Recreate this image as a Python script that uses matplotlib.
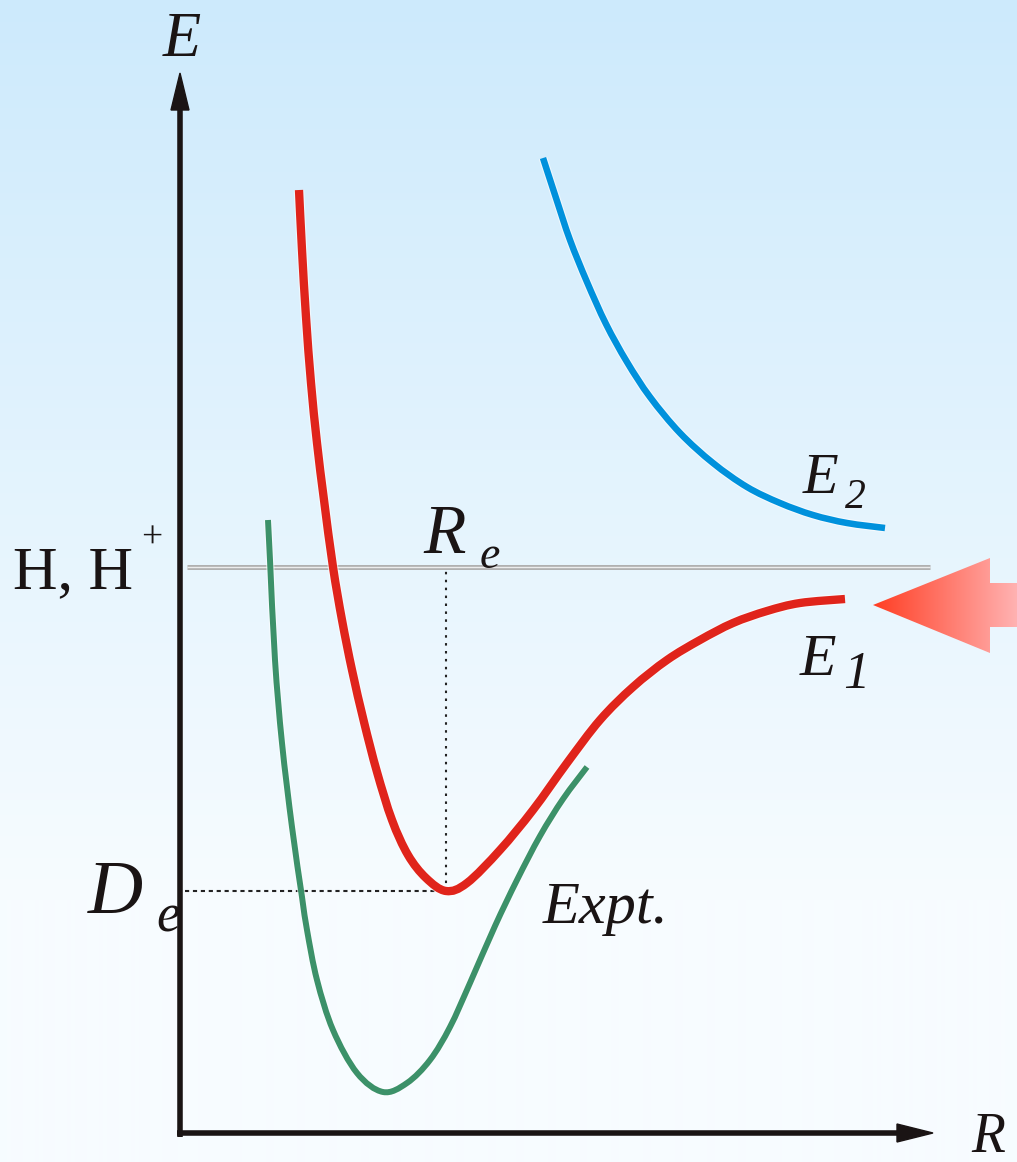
import numpy as np
import matplotlib
matplotlib.use("Agg")
import matplotlib.pyplot as plt
from matplotlib import patheffects as pe
from matplotlib.patches import Polygon, PathPatch
from matplotlib.path import Path

# ---------------- data (R, E in arbitrary units) ----------------
red_R = [119, 122, 126, 131, 137, 144, 153, 162, 172, 184, 197, 212, 228, 246, 266, 287,
         320, 353, 387, 420, 453, 487, 520, 553, 587, 620, 665]
red_E = [943, 883, 816, 750, 690, 633, 566, 513, 463, 411, 361, 313, 278, 255, 242, 250,
         283, 323, 370, 413, 446, 473, 493, 510, 522, 530, 534]

blue_R = [363, 376, 390, 407, 426, 447, 470, 500, 533, 567, 600, 633, 667, 705]
blue_E = [975, 935, 893, 851, 809, 771, 736, 700, 670, 646, 630, 618, 610, 605]

green_R = [88, 90, 95, 102, 112, 122, 127, 137, 153, 177, 203, 227, 250, 270, 290,
           315, 337, 360, 383, 407]
green_E = [613, 573, 473, 390, 306, 236, 203, 153, 103, 60, 41, 50, 73, 106, 150,
           207, 253, 297, 334, 366]

asym_E = 566          # H, H+ dissociation level
asym_R = [7, 750]
Re = 266              # equilibrium distance
De_E = 242            # minimum of E1

# ---------------- figure ----------------
W, H = 1017, 1162
fig = plt.figure(figsize=(W / 100, H / 100), dpi=100)
ax = fig.add_axes([0, 0, 1, 1])
x0, x1, y0, y1 = -180, 837, -29, 1133
ax.set_xlim(x0, x1)
ax.set_ylim(y0, y1)
ax.axis("off")

# background gradient
top = np.array([205, 234, 252]) / 255
bot = np.array([247, 252, 255]) / 255
rows = np.arange(H)
t = np.clip(rows / 900.0, 0, 1)[:, None]
grad = (top * (1 - t) + bot * t)[:, None, :]
ax.imshow(grad, extent=(x0, x1, y0, y1), aspect="auto", zorder=0, interpolation="bilinear")

ink = "#1a1414"
serif = "Liberation Serif"

# axes with arrows
ax.plot([0, 0], [-4, 1025], color=ink, lw=4.0, solid_capstyle="butt", zorder=5)
ax.add_patch(Polygon([(-9, 1023), (9, 1023), (0, 1060)], closed=True, color=ink, zorder=5))
ax.plot([-3, 719], [0, 0], color=ink, lw=4.0, solid_capstyle="butt", zorder=5)
ax.add_patch(Polygon([(717, 9), (717, -9), (753, 0)], closed=True, color=ink, zorder=5))

# dissociation level (double gray line)
ax.plot(asym_R, [asym_E, asym_E], color="#b0b0b0", lw=3.6, zorder=2, solid_capstyle="butt")
ax.plot(asym_R, [asym_E, asym_E], color="#ececec", lw=1.0, zorder=2, solid_capstyle="butt")

# dotted guide lines
ax.plot([Re, Re], [De_E, asym_E], color="#222222", lw=1.5, ls=(0, (1.2, 2.6)), zorder=3)
ax.plot([5, Re], [De_E, De_E], color="#222222", lw=1.5, ls=(0, (2.0, 1.8)), zorder=3)


def smooth_path(xs, ys):
    """Bezier path through the read points (Catmull-Rom tangents)."""
    p = np.column_stack([xs, ys]).astype(float)
    ext = np.vstack([p[0], p, p[-1]])
    verts = [p[0]]
    codes = [Path.MOVETO]
    for i in range(len(p) - 1):
        a, b, c, d = ext[i], ext[i + 1], ext[i + 2], ext[i + 3]
        verts += [b + (c - a) / 6.0, c - (d - b) / 6.0, c]
        codes += [Path.CURVE4] * 3
    return Path(verts, codes)


def curve(xs, ys, color, lw):
    patch = PathPatch(smooth_path(xs, ys), facecolor="none", edgecolor=color, lw=lw,
                      capstyle="butt", joinstyle="round", zorder=4,
                      path_effects=[pe.Stroke(linewidth=lw + 1.6, foreground="white", alpha=0.6),
                                    pe.Normal()])
    ax.add_patch(patch)


curve(green_R, green_E, "#3c9169", 4.3)
curve(red_R, red_E, "#e0241b", 6.0)
curve(blue_R, blue_E, "#0091dc", 4.7)

# big red gradient arrow on the right
arrow_pts = [(693, 528), (810, 575), (810, 550), (837, 550), (837, 506), (810, 506), (810, 480)]
arr = Polygon(arrow_pts, closed=True, facecolor="none", edgecolor="none", zorder=6)
ax.add_patch(arr)
c0 = np.array([255, 62, 35]) / 255
c1 = np.array([255, 178, 178]) / 255
s = np.linspace(0, 1, 256)[None, :, None]
agrad = c0 * (1 - s) + c1 * s
im = ax.imshow(agrad, extent=(693, 837, 480, 575), aspect="auto", zorder=6,
               interpolation="bilinear")
im.set_clip_path(arr)

# ---------------- text ----------------
def txt(x, y, s, size, style="italic", ha="left", va="baseline"):
    ax.text(x, y, s, fontsize=size, family=serif, style=style, color=ink,
            ha=ha, va=va, zorder=7)

txt(2, 1077, "E", 45, ha="center")
txt(791, -19, "R", 40)
txt(-167, 545, "H, H", 44.5, style="normal")
txt(-28, 595, "+", 27, style="normal", ha="center", va="center")
txt(243, 580, "R", 50)
txt(300, 565, "e", 33)
txt(-92, 220, "D", 55)
txt(-24, 201, "e", 39)
txt(623, 640, "E", 42)
txt(665, 625, "2", 30)
txt(620, 458, "E", 43)
txt(663, 445, "1", 38)
txt(363, 210, "Expt.", 43.5)

fig.savefig("out.png", dpi=100)
